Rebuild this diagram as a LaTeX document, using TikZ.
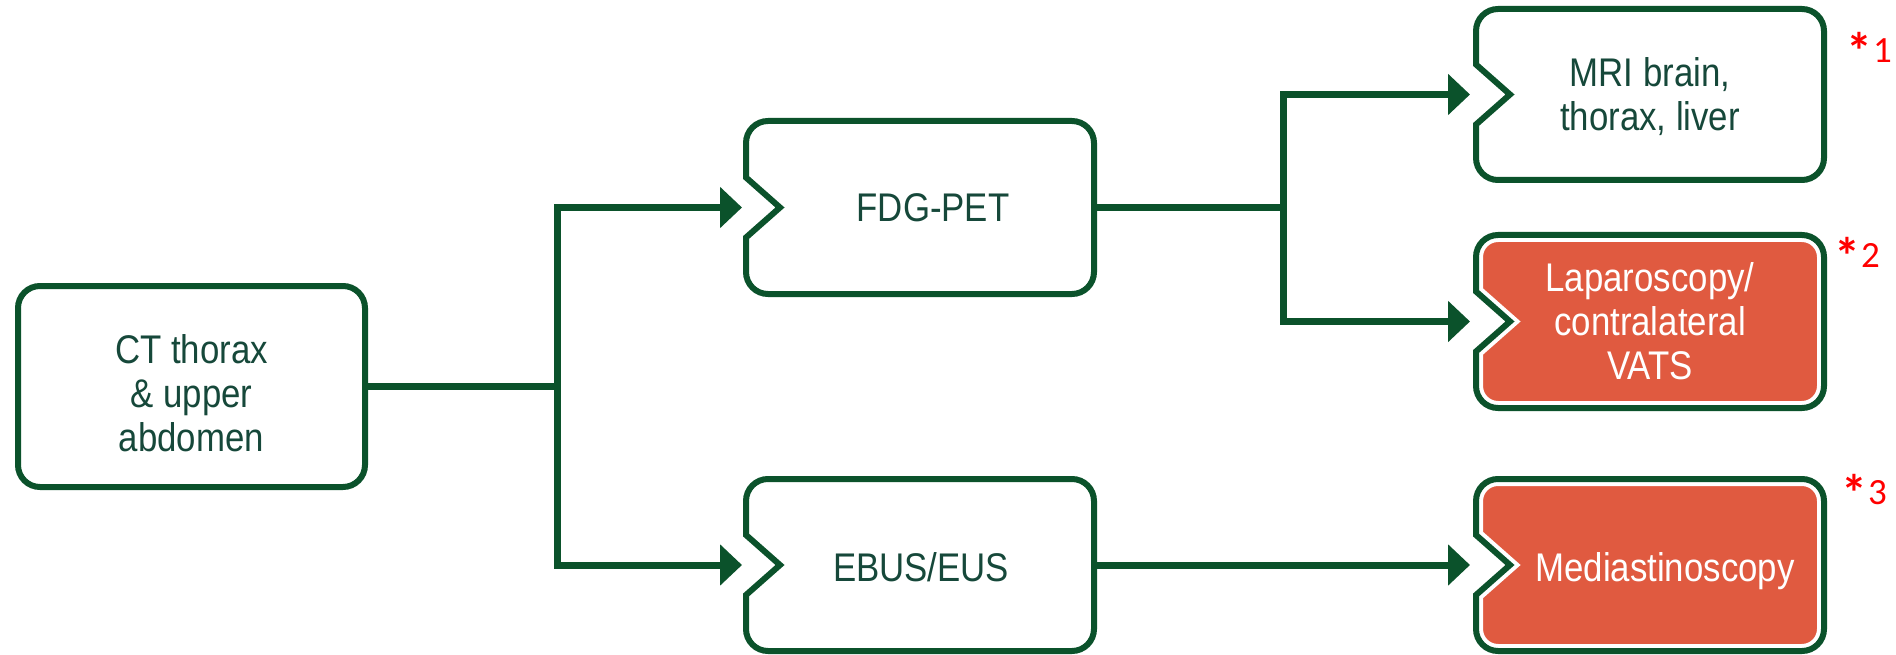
\documentclass[tikz,border=0pt]{standalone}
\usepackage{fontspec}
\setmainfont{Liberation Sans}[FakeStretch=0.87]
\newfontfamily\notefont{Carlito}
\usetikzlibrary{arrows.meta,calc}
\definecolor{lgreen}{RGB}{11,82,43}
\definecolor{tgreen}{RGB}{22,72,58}
\definecolor{orng}{RGB}{224,90,64}
\definecolor{nred}{RGB}{255,0,0}
\newcommand\drawnotch[2]{%
  \draw[#1] ([yshift=30pt]#2.west) -- ([yshift=-22pt]#2.north west)
    arc[start angle=180,end angle=90,radius=22pt] -- ([xshift=-22pt]#2.north east)
    arc[start angle=90,end angle=0,radius=22pt] -- ([yshift=22pt]#2.south east)
    arc[start angle=0,end angle=-90,radius=22pt] -- ([xshift=22pt]#2.south west)
    arc[start angle=270,end angle=180,radius=22pt] -- ([yshift=-30pt]#2.west)
    -- ([xshift=34pt]#2.west) -- cycle;}
\newcommand\notemark[1]{\raisebox{-7pt}{\fontsize{52}{52}\selectfont\bfseries *}\kern1pt#1}
\tikzset{
  boxarea/.style={minimum width=348pt, minimum height=173pt, inner sep=0pt, outer sep=0pt},
  boxtext/.style={font=\fontsize{40}{44}\selectfont, text=tgreen, align=center, inner sep=0pt},
  whitetext/.style={boxtext, text=white},
  conn/.style={draw=lgreen, line width=7pt},
  arr/.style={conn, -{Triangle[length=22pt,width=40pt]}},
  outline/.style={draw=lgreen, line width=6pt},
  orangefill/.style={fill=orng, draw=white, line width=14pt},
  note/.style={font=\notefont\fontsize{37}{40}\selectfont, text=nred, inner sep=0pt, anchor=base}
}
\begin{document}
\begin{tikzpicture}[x=1pt,y=-1pt]
\useasboundingbox (0,0) rectangle (1896,655);
% box areas
\node[boxarea, minimum width=347pt, minimum height=201pt, draw=lgreen, line width=6pt, rounded corners=22pt] (ct) at (191.5,386.5) {};
\node[boxarea] (fdg) at (920,207.5) {};
\node[boxarea, minimum height=172pt] (ebus) at (920,565) {};
\node[boxarea, minimum height=171pt] (mri) at (1650,94.5) {};
\node[boxarea] (lap) at (1650,321.5) {};
\node[boxarea, minimum height=172pt] (med) at (1650,565) {};
% shapes
\drawnotch{outline}{fdg}
\drawnotch{outline}{ebus}
\drawnotch{outline}{mri}
\drawnotch{orangefill}{lap}
\drawnotch{outline}{lap}
\drawnotch{orangefill}{med}
\drawnotch{outline}{med}
% texts
\node[boxtext] (ctt) at (191.5,393.5) {CT thorax\\\& upper\\abdomen};
\node[boxtext, anchor=base] (fdgt) at (933,222) {FDG-PET};
\node[boxtext, anchor=base] (ebust) at (921,581) {EBUS/EUS};
\node[boxtext] (mrit) at (1650,97) {MRI brain,\\thorax, liver};
\node[whitetext] (lapt) at (1650,321.5) {Laparoscopy/\\contralateral\\VATS};
\node[whitetext, anchor=base] (medt) at (1665,581) {Mediastinoscopy};
% notes
\node[note] (n1) at (1869,62.5) {\notemark{1}};
\node[note] (n2) at (1857,268) {\notemark{2}};
\node[note] (n3) at (1864,504) {\notemark{3}};
% connectors
\coordinate (j1) at (557,386.5);
\coordinate (j2) at (1283,207.5);
\draw[conn] (ct.east) -- (j1);
\draw[arr] (j1) |- ([xshift=-4pt]fdg.west);
\draw[arr] (j1) |- ([xshift=-4pt]ebus.west);
\draw[conn] (fdg.east) -- (j2);
\draw[arr] (j2) |- ([xshift=-6pt]mri.west);
\draw[arr] (j2) |- ([xshift=-6pt]lap.west);
\draw[arr] (ebus.east) -- ([xshift=-6pt]med.west);
\end{tikzpicture}
\end{document}
